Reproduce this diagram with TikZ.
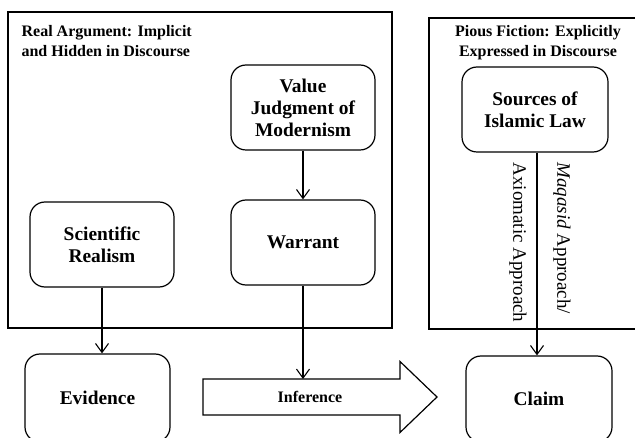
\documentclass[tikz,border=0pt]{standalone}
\usepackage{fontspec}
\setmainfont{Liberation Serif}
\usetikzlibrary{arrows.meta,calc}
\begin{document}
\begin{tikzpicture}[x=1pt,y=-1pt, line width=1.2pt,
  box/.style={draw, rounded corners=15pt, align=center, inner sep=0pt,
    minimum width=144pt, minimum height=85pt,
    font=\fontsize{19.4}{22}\selectfont\bfseries},
  ttl/.style={inner sep=0pt, align=left, font=\fontsize{16}{19.5}\selectfont\bfseries},
  lbl/.style={inner sep=0pt, rotate=-90, anchor=west, font=\fontsize{19}{22}\selectfont},
  arr/.style={-{Straight Barb[length=9pt,width=13pt]}, line width=1.1pt}]
\useasboundingbox (0,0) rectangle (635,438);
\clip (0,0) rectangle (635,438);
% frames
\draw (8,12) rectangle (392,328);
\draw (645,18) -- (429,18) -- (429,329) -- (645,329);
\node[ttl, anchor=north west] (t1) at (21,25) {Real Argument: Implicit\\and Hidden in Discourse};
\node[ttl, anchor=north, align=center] (t2) at (538,25) {Pious Fiction: Explicitly\\Expressed in Discourse};
% boxes
\node[box] (vj) at (303,107.5) {Value\\Judgment of\\Modernism};
\node[box] (war) at (303,242.5) {Warrant};
\node[box] (sr) at (102,244.5) {Scientific\\Realism};
\node[box, minimum width=145pt, minimum height=88pt] (ev) at (97.5,398) {Evidence};
\node[box, minimum width=146pt, minimum height=86pt] (claim) at (539,399) {Claim};
\node[box, minimum width=146pt] (src) at (535,109.5) {Sources of\\Islamic Law};
% inference arrow
\coordinate (ia) at (203,379);
\coordinate (ib) at (400,379);
\coordinate (ic) at (400,361.5);
\coordinate (id) at (437,397);
\coordinate (ie) at (400,432.5);
\coordinate (if) at (400,415);
\coordinate (ig) at (203,415);
\draw (ia) -- (ib) -- (ic) -- (id) -- (ie) -- (if) -- (ig) -- cycle;
\node[font=\fontsize{16}{19}\selectfont\bfseries] (inf) at (310,397) {Inference};
% connectors
\draw[arr] (vj.south) -- (war.north);
\draw[arr] (war.south) -- (war.south |- ia);
\draw[arr] (sr.south) -- (sr.south |- ev.north);
\draw[arr] ($(src.south)+(2,0)$) -- ($(src.south |- claim.north)+(2,0)$);
% rotated labels
\node[lbl] (ax) at (518,162) {Axiomatic Approach};
\node[lbl] (mq) at (562,162) {\textit{Maqasid} Approach/};
\end{tikzpicture}
\end{document}
